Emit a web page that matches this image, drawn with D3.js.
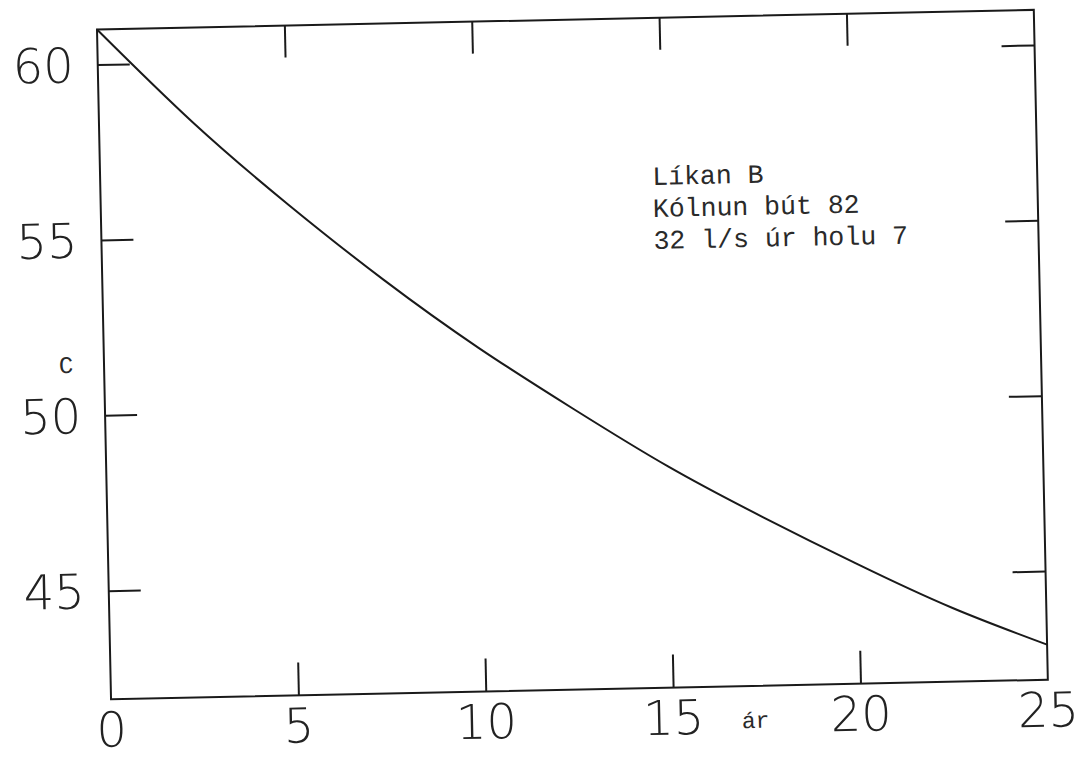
<!DOCTYPE html>
<html>
<head>
<meta charset="utf-8">
<script src="https://cdn.jsdelivr.net/npm/d3@7"></script>
<style>
  body { margin: 0; background: #fff; }
  .num { font-family: "DejaVu Sans", sans-serif; font-weight: 200; font-size: 48px; fill: #222; }
  .mono { font-family: "Liberation Mono", "DejaVu Sans Mono", monospace; fill: #2a2a2a; }
</style>
</head>
<body>
<svg id="chart" width="1085" height="758"></svg>
<script>
// values (year, temperature C)
const years = [0, 2.5, 5, 7.5, 10, 12.5, 15, 17.5, 20, 22.5, 25];
const temps = [61.0, 58.3, 55.9, 53.7, 51.7, 49.9, 48.2, 46.7, 45.3, 44.0, 42.9];

const xTicks = [0, 5, 10, 15, 20, 25];
const yTicks = [45, 50, 55, 60];
const noteLines = ["Líkan B", "Kólnun bút 82", "32 l/s úr holu 7"];

const width = 937;
const height = 670;

const svg = d3.select("#chart");
// the scanned page is a little tilted
const g = svg.append("g")
  .attr("transform", "translate(97,29.5) rotate(-1.2)");

const x = d3.scaleLinear().domain([0, 25]).range([0, width]);
const y = d3.scaleLinear().domain([41.9, 61]).range([height, 0]);

const inner = xTicks.filter(d => d > 0 && d < 25);

function styleAxis(sel) {
  sel.select(".domain").remove();
  sel.selectAll(".tick line").attr("stroke", "#1a1a1a").attr("stroke-width", 2);
  sel.selectAll(".tick text").remove();
}

g.append("g").attr("transform", `translate(0,${height})`)
  .call(d3.axisBottom(x).tickValues(inner).tickSize(-33))
  .call(styleAxis);
g.append("g")
  .call(d3.axisTop(x).tickValues(inner).tickSize(-32))
  .call(styleAxis);
g.append("g")
  .call(d3.axisLeft(y).tickValues(yTicks).tickSize(-32))
  .call(styleAxis);
g.append("g").attr("transform", `translate(${width},0)`)
  .call(d3.axisRight(y).tickValues(yTicks).tickSize(-33))
  .call(styleAxis);

// frame
g.append("rect")
  .attr("width", width).attr("height", height)
  .attr("fill", "none").attr("stroke", "#1a1a1a").attr("stroke-width", 2);

// tick labels
g.selectAll("text.ylab").data(yTicks).enter().append("text")
  .attr("class", "num ylab")
  .attr("x", -24)
  .attr("y", d => y(d))
  .attr("dy", "0.36em")
  .attr("text-anchor", "end")
  .text(d => d);

g.selectAll("text.xlab").data(xTicks).enter().append("text")
  .attr("class", "num xlab")
  .attr("x", d => x(d))
  .attr("y", 717)
  .attr("text-anchor", "middle")
  .text(d => d);

// curve
const line = d3.line()
  .x((d, i) => x(years[i]))
  .y(d => y(d))
  .curve(d3.curveNatural);

g.append("path")
  .attr("d", line(temps))
  .attr("fill", "none")
  .attr("stroke", "#1a1a1a")
  .attr("stroke-width", 2);

// axis titles
g.append("text").attr("class", "mono")
  .attr("x", -38).attr("y", 343)
  .attr("text-anchor", "middle")
  .style("font-size", "24px")
  .text("C");

g.append("text").attr("class", "mono")
  .attr("x", 644).attr("y", 712)
  .attr("text-anchor", "middle")
  .style("font-size", "23px")
  .text("ár");

// note
g.selectAll("text.note").data(noteLines).enter().append("text")
  .attr("class", "mono note")
  .attr("x", 552)
  .attr("y", (d, i) => 167 + i * 32)
  .style("font-size", "26.5px")
  .text(d => d);
</script>
</body>
</html>
